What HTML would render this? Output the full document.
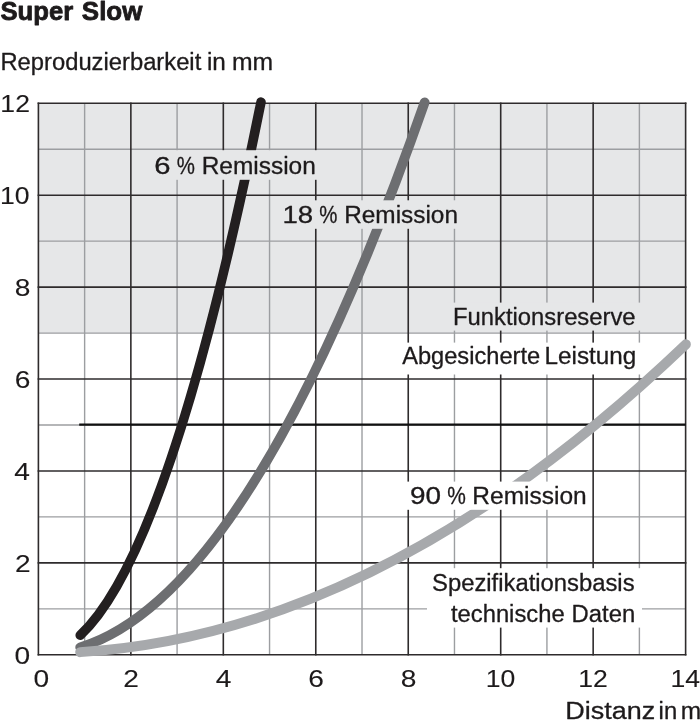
<!DOCTYPE html>
<html><head><meta charset="utf-8"><title>Super Slow</title>
<style>html,body{margin:0;padding:0;background:#fff}svg{display:block}text{font-family:"Liberation Sans",sans-serif;fill:#1d1a1b;stroke:#1d1a1b;stroke-width:0.3px;stroke-linejoin:round}</style></head><body>
<svg width="700" height="720" viewBox="0 0 700 720">
<rect width="700" height="720" fill="#fff"/>
<rect x="38.40" y="103.28" width="647.22" height="229.80" fill="#e6e7e8"/>
<g stroke="#9c9ea1" stroke-width="1.4" fill="none">
<line x1="84.63" y1="103.28" x2="84.63" y2="654.80"/>
<line x1="177.09" y1="103.28" x2="177.09" y2="654.80"/>
<line x1="269.55" y1="103.28" x2="269.55" y2="654.80"/>
<line x1="362.01" y1="103.28" x2="362.01" y2="654.80"/>
<line x1="454.47" y1="103.28" x2="454.47" y2="654.80"/>
<line x1="546.93" y1="103.28" x2="546.93" y2="654.80"/>
<line x1="639.39" y1="103.28" x2="639.39" y2="654.80"/>
<line x1="38.40" y1="608.84" x2="685.62" y2="608.84"/>
<line x1="38.40" y1="516.92" x2="685.62" y2="516.92"/>
<line x1="38.40" y1="425.00" x2="685.62" y2="425.00"/>
<line x1="38.40" y1="333.08" x2="685.62" y2="333.08"/>
<line x1="38.40" y1="241.16" x2="685.62" y2="241.16"/>
<line x1="38.40" y1="149.24" x2="685.62" y2="149.24"/>
</g>
<g stroke="#2e2b2c" stroke-width="1.6" fill="none" stroke-linecap="square">
<line x1="38.40" y1="103.28" x2="38.40" y2="654.80"/>
<line x1="130.86" y1="103.28" x2="130.86" y2="654.80"/>
<line x1="223.32" y1="103.28" x2="223.32" y2="654.80"/>
<line x1="315.78" y1="103.28" x2="315.78" y2="654.80"/>
<line x1="408.24" y1="103.28" x2="408.24" y2="654.80"/>
<line x1="500.70" y1="103.28" x2="500.70" y2="654.80"/>
<line x1="593.16" y1="103.28" x2="593.16" y2="654.80"/>
<line x1="685.62" y1="103.28" x2="685.62" y2="654.80"/>
<line x1="38.40" y1="654.80" x2="685.62" y2="654.80"/>
<line x1="38.40" y1="562.88" x2="685.62" y2="562.88"/>
<line x1="38.40" y1="470.96" x2="685.62" y2="470.96"/>
<line x1="38.40" y1="379.04" x2="685.62" y2="379.04"/>
<line x1="38.40" y1="287.12" x2="685.62" y2="287.12"/>
<line x1="38.40" y1="195.20" x2="685.62" y2="195.20"/>
<line x1="38.40" y1="103.28" x2="685.62" y2="103.28"/>
</g>
<line x1="79.2" y1="424.6" x2="685.62" y2="424.6" stroke="#111" stroke-width="2.2"/>
<path d="M80.24,635.27 Q170.62,550.92 261.00,102.10" stroke="#231f20" stroke-width="9.6" stroke-linecap="round" fill="none"/>
<path d="M80.24,647.41 Q252.44,594.15 424.65,102.44" stroke="#6d6e71" stroke-width="9.8" stroke-linecap="round" fill="none"/>
<path d="M80.24,652.13 Q383.04,633.45 685.85,344.31" stroke="#a7a9ac" stroke-width="10" stroke-linecap="round" fill="none"/>
<rect x="152" y="150.2" width="166.5" height="29.6" fill="#e6e7e8"/>
<rect x="281" y="200.3" width="179.0" height="28.5" fill="#e6e7e8"/>
<rect x="447" y="302.6" width="194.5" height="28.0" fill="#e6e7e8"/>
<rect x="398" y="342.6" width="243.5" height="31.9" fill="#fff"/>
<rect x="406" y="481.6" width="183.0" height="28.2" fill="#fff"/>
<rect x="427" y="568.2" width="215.0" height="59.4" fill="#fff"/>
<text y="19.7" font-size="25" font-weight="bold" style="stroke-width:0.8px"><tspan x="0.46" textLength="79.86" lengthAdjust="spacingAndGlyphs">Super </tspan><tspan x="81.85" textLength="60.50" lengthAdjust="spacingAndGlyphs">Slow</tspan></text>
<text y="69.6" font-size="23.5"><tspan x="0.45" textLength="207.43" lengthAdjust="spacingAndGlyphs">Reproduzierbarkeit </tspan><tspan x="206.98" textLength="25.65" lengthAdjust="spacingAndGlyphs">in </tspan><tspan x="231.96" textLength="41.17" lengthAdjust="spacingAndGlyphs">mm</tspan></text>
<text y="173.6" font-size="23.5"><tspan x="154.31" textLength="24.40" lengthAdjust="spacingAndGlyphs">6 </tspan><tspan x="176.87" textLength="23.83" lengthAdjust="spacingAndGlyphs">% </tspan><tspan x="201.70" textLength="114.09" lengthAdjust="spacingAndGlyphs">Remission</tspan></text>
<text y="223.0" font-size="23.5"><tspan x="282.40" textLength="38.37" lengthAdjust="spacingAndGlyphs">18 </tspan><tspan x="319.37" textLength="23.83" lengthAdjust="spacingAndGlyphs">% </tspan><tspan x="344.20" textLength="113.78" lengthAdjust="spacingAndGlyphs">Remission</tspan></text>
<text x="453.05" y="324.6" font-size="23.5" textLength="182.51" lengthAdjust="spacingAndGlyphs">Funktionsreserve</text>
<text y="363.8" font-size="23.5"><tspan x="402.15" textLength="144.57" lengthAdjust="spacingAndGlyphs">Abgesicherte </tspan><tspan x="544.61" textLength="91.65" lengthAdjust="spacingAndGlyphs">Leistung</tspan></text>
<text y="504.4" font-size="23.5"><tspan x="410.09" textLength="38.74" lengthAdjust="spacingAndGlyphs">90 </tspan><tspan x="447.35" textLength="24.40" lengthAdjust="spacingAndGlyphs">% </tspan><tspan x="472.39" textLength="114.30" lengthAdjust="spacingAndGlyphs">Remission</tspan></text>
<text x="432.02" y="591.3" font-size="23.5" textLength="202.54" lengthAdjust="spacingAndGlyphs">Spezifikationsbasis</text>
<text y="622.0" font-size="23.5"><tspan x="450.94" textLength="120.33" lengthAdjust="spacingAndGlyphs">technische </tspan><tspan x="571.64" textLength="63.60" lengthAdjust="spacingAndGlyphs">Daten</tspan></text>
<text y="719.0" font-size="23.5"><tspan x="565.39" textLength="97.45" lengthAdjust="spacingAndGlyphs">Distanz </tspan><tspan x="658.61" textLength="25.16" lengthAdjust="spacingAndGlyphs">in </tspan><tspan x="680.77" textLength="20.45" lengthAdjust="spacingAndGlyphs">m</tspan></text>
<text x="14.63" y="663.5" font-size="24.5" style="stroke-width:0.1px" textLength="15.67" lengthAdjust="spacingAndGlyphs">0</text>
<text x="14.95" y="571.6" font-size="24.5" style="stroke-width:0.1px" textLength="15.67" lengthAdjust="spacingAndGlyphs">2</text>
<text x="14.36" y="479.7" font-size="24.5" style="stroke-width:0.1px" textLength="15.67" lengthAdjust="spacingAndGlyphs">4</text>
<text x="14.77" y="387.7" font-size="24.5" style="stroke-width:0.1px" textLength="15.67" lengthAdjust="spacingAndGlyphs">6</text>
<text x="14.75" y="295.8" font-size="24.5" style="stroke-width:0.1px" textLength="15.67" lengthAdjust="spacingAndGlyphs">8</text>
<text x="0.07" y="203.9" font-size="24.5" style="stroke-width:0.1px" textLength="29.57" lengthAdjust="spacingAndGlyphs">10</text>
<text x="0.37" y="112.0" font-size="24.5" style="stroke-width:0.1px" textLength="29.57" lengthAdjust="spacingAndGlyphs">12</text>
<text x="33.57" y="686.6" font-size="24.5" style="stroke-width:0.1px" textLength="15.67" lengthAdjust="spacingAndGlyphs">0</text>
<text x="123.33" y="686.6" font-size="24.5" style="stroke-width:0.1px" textLength="15.67" lengthAdjust="spacingAndGlyphs">2</text>
<text x="215.87" y="686.6" font-size="24.5" style="stroke-width:0.1px" textLength="15.67" lengthAdjust="spacingAndGlyphs">4</text>
<text x="308.15" y="686.6" font-size="24.5" style="stroke-width:0.1px" textLength="15.67" lengthAdjust="spacingAndGlyphs">6</text>
<text x="400.71" y="686.6" font-size="24.5" style="stroke-width:0.1px" textLength="15.67" lengthAdjust="spacingAndGlyphs">8</text>
<text x="485.72" y="686.6" font-size="24.5" style="stroke-width:0.1px" textLength="29.57" lengthAdjust="spacingAndGlyphs">10</text>
<text x="578.33" y="686.6" font-size="24.5" style="stroke-width:0.1px" textLength="29.57" lengthAdjust="spacingAndGlyphs">12</text>
<text x="670.51" y="686.6" font-size="24.5" style="stroke-width:0.1px" textLength="29.57" lengthAdjust="spacingAndGlyphs">14</text>
</svg></body></html>
